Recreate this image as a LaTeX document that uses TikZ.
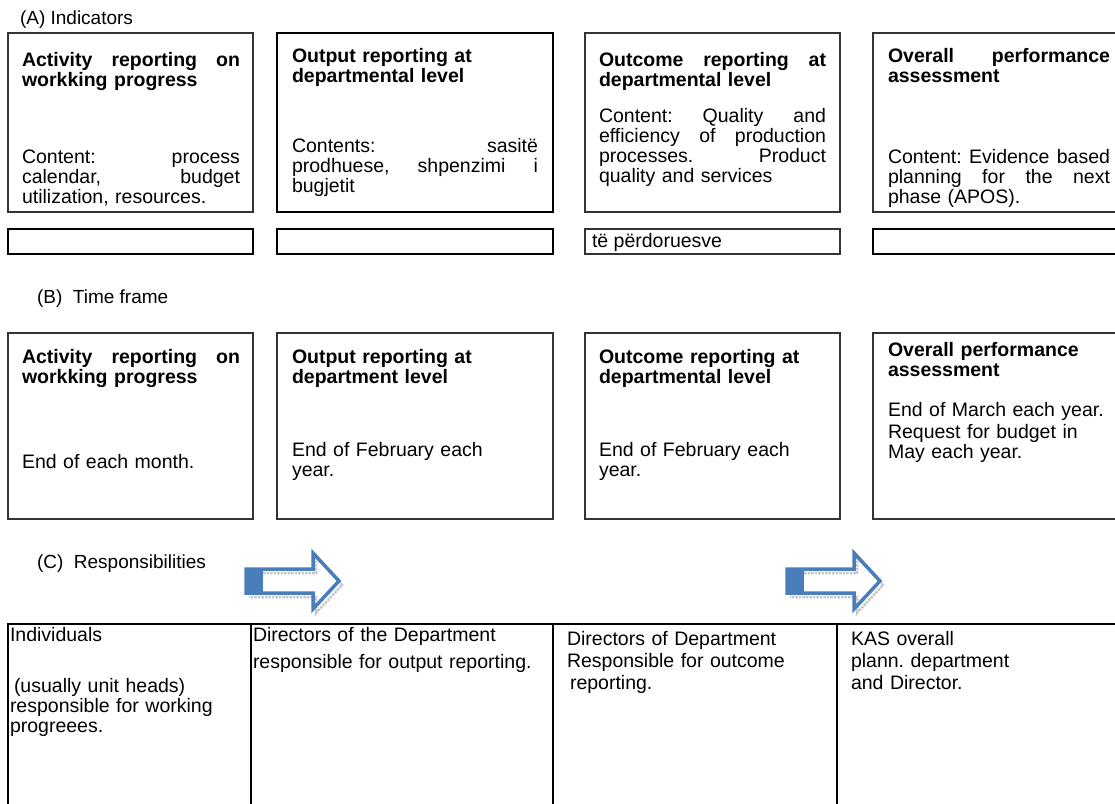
\documentclass[tikz,border=0pt]{standalone}
\usepackage{fontspec}
\setmainfont{Liberation Sans}
\newcommand\jl[1]{{\spaceskip=.278em plus 20em\xspaceskip=.278em plus 20em\makebox[\hsize][s]{#1}}}
\definecolor{arrowblue}{RGB}{74,126,187}
\begin{document}
\begin{tikzpicture}[x=1pt,y=-1pt,
  every node/.style={inner sep=0pt, outer sep=0pt},
  fnt/.style={font=\fontsize{19.5}{20}\selectfont\frenchspacing},
  bfnt/.style={font=\fontsize{19.5}{20}\selectfont\bfseries\frenchspacing},
  panel/.style={draw=black!80, line width=1.3pt, anchor=north west},
  slim/.style={draw=black, line width=2pt, anchor=north west, minimum height=25pt},
  txt/.style={fnt, anchor=base west},
  ttl/.style={bfnt, anchor=base west},
  lbl/.style={font=\fontsize{19}{20}\selectfont, anchor=base west},
  barrow/.pic={
    \draw[gray!45, line width=2.5pt, densely dotted] (3,-8) -- (70,-8) -- (70,-24) -- (96,4) -- (70,32) -- (70,16) -- (3,16);
    \fill[arrowblue] (0,-12) rectangle (17,12);
    \draw[arrowblue, line width=3.5pt, miter limit=10] (0,-12) -- (67,-12) -- (67,-28) -- (93,0) -- (67,28) -- (67,12) -- (0,12) -- cycle;
  }
]
\useasboundingbox (0,0) rectangle (1115,803);
\clip (0,0) rectangle (1115,803);

% ---------- (A) Indicators ----------
\node[lbl] (la) at (20,24.5) {(A) Indicators};

\node[panel, minimum width=245pt, minimum height=179pt] (a1) at (8,33) {};
\node[panel, minimum width=276pt, minimum height=179pt, draw=black, line width=1.6pt] (a2) at (277,33) {};
\node[panel, minimum width=255pt, minimum height=179pt] (a3) at (585,33) {};
\node[panel, minimum width=270pt, minimum height=179pt] (a4) at (873,33) {};

\node[ttl, text width=218pt] (a1t) at (22,66.5) {\jl{Activity reporting on}\\workking progress};
\node[txt, text width=218pt] (a1c) at (22,163.5) {\jl{Content: process}\\\jl{calendar, budget}\\utilization, resources.};

\node[ttl, text width=246pt] (a2t) at (292,62.5) {Output reporting at\\departmental level};
\node[txt, text width=246pt] (a2c) at (292,152.5) {\jl{Contents: sasitë}\\\jl{prodhuese, shpenzimi i}\\bugjetit};

\node[ttl, text width=227pt] (a3t) at (599,66.5) {\jl{Outcome reporting at}\\departmental level};
\node[txt, text width=227pt] (a3c) at (599,122.5) {\jl{Content: Quality and}\\\jl{efficiency of production}\\\jl{processes. Product}\\quality and services};

\node[ttl, text width=222pt] (a4t) at (888,62.5) {\jl{Overall performance}\\assessment};
\node[txt, text width=222pt] (a4c) at (888,163.5) {\jl{Content: Evidence based}\\\jl{planning for the next}\\phase (APOS).};

\node[slim, minimum width=245pt] (s1) at (8,229) {};
\node[slim, minimum width=276pt] (s2) at (277,229) {};
\node[slim, minimum width=255pt, draw=black!80, line width=1.3pt] (s3) at (585,229) {};
\node[slim, minimum width=270pt] (s4) at (873,229) {};
\node[txt] (s3t) at (592,247) {të përdoruesve};

% ---------- (B) Time frame ----------
\node[lbl] (lb) at (37,303.5) {(B)\ \ Time frame};

\node[panel, minimum width=245pt, minimum height=186pt] (b1) at (8,333) {};
\node[panel, minimum width=276pt, minimum height=186pt] (b2) at (277,333) {};
\node[panel, minimum width=255pt, minimum height=186pt] (b3) at (585,333) {};
\node[panel, minimum width=270pt, minimum height=186pt] (b4) at (873,333) {};

\node[ttl, text width=218pt] (b1t) at (22,363.5) {\jl{Activity reporting on}\\workking progress};
\node[txt, text width=218pt] (b1c) at (22,468.5) {End of each month.};

\node[ttl, text width=246pt] (b2t) at (292,363.5) {Output reporting at\\department level};
\node[txt, text width=246pt] (b2c) at (292,456.5) {End of February each\\year.};

\node[ttl, text width=227pt] (b3t) at (599,363.5) {Outcome reporting at\\departmental level};
\node[txt, text width=227pt] (b3c) at (599,456.5) {End of February each\\year.};

\node[ttl, text width=222pt] (b4t) at (888,356.5) {Overall performance\\assessment};
\node[txt, text width=222pt] (b4c) at (888,416.5) {End of March each year.\\[2pt]Request for budget in\\May each year.};

% ---------- (C) Responsibilities ----------
\node[lbl] (lc) at (37,568.5) {(C)\ \ Responsibilities};

\pic at (246,581) {barrow};
\pic at (787,581) {barrow};

\draw[line width=2.5pt] (8,810) -- (8,624) -- (1120,624);
\draw[line width=2.5pt] (251,624) -- (251,810);
\draw[line width=2.5pt] (553,624) -- (553,810);
\draw[line width=2.5pt] (837,624) -- (837,810);

\node[txt, text width=235pt] (c1a) at (10,641.5) {Individuals};
\node[txt, text width=235pt] (c1b) at (10,692.5) {\hspace{4pt}(usually unit heads)\\responsible for working\\progreees.};
\node[txt, text width=295pt] (c2) at (253,641.5) {Directors of the Department\\[7pt]responsible for output reporting.};
\node[txt, text width=265pt] (c3) at (567,645.5) {Directors of Department\\[2pt]Responsible for outcome\\[2pt]\hspace{3pt}reporting.};
\node[txt, text width=255pt] (c4) at (851,645.5) {KAS overall\\[2pt]plann. department\\[2pt]and Director.};
\end{tikzpicture}
\end{document}
